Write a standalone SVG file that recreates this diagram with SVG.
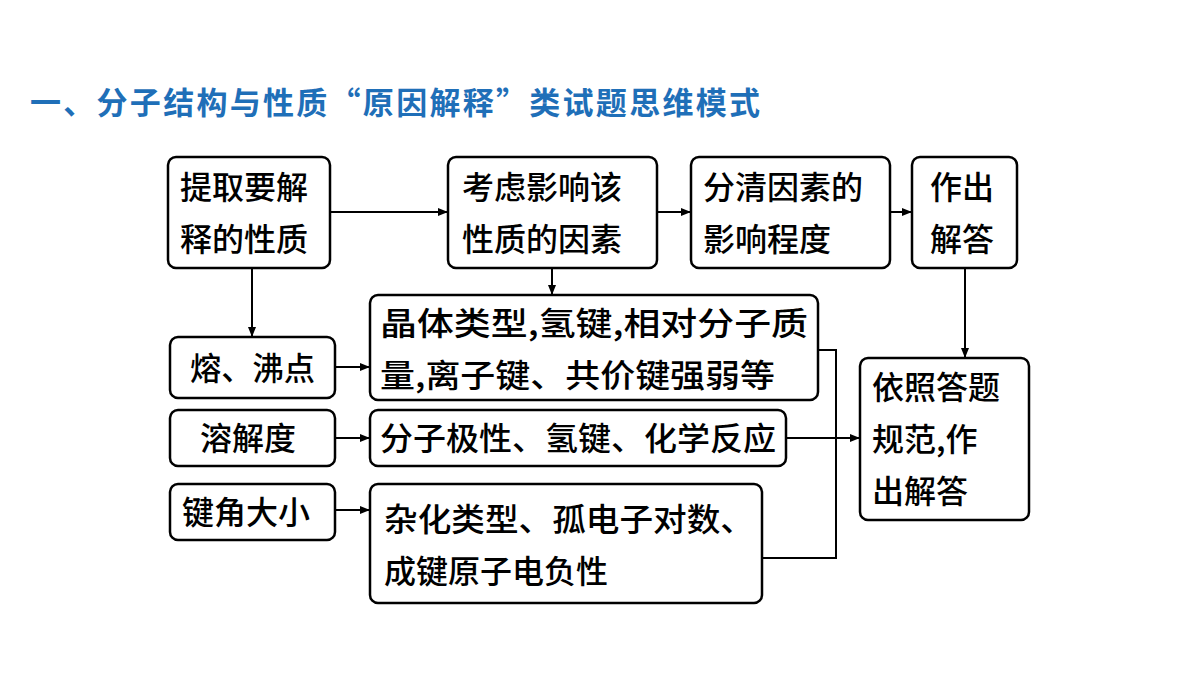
<svg xmlns="http://www.w3.org/2000/svg" width="1200" height="675" viewBox="0 0 1200 675">
<defs>
<marker id="ar" markerWidth="10" markerHeight="8" refX="9" refY="4" orient="auto" markerUnits="userSpaceOnUse"><path d="M0,0 L10,4 L0,8 Z" fill="#000"/></marker>
<style>
.b{fill:#fff;stroke:#000;stroke-width:2.5}
.t{font-family:"Noto Sans CJK SC","Noto Sans",sans-serif;font-size:32px;font-weight:500;fill:#000}
.c{fill:none;stroke:#000;stroke-width:2}
</style>
</defs>
<rect width="1200" height="675" fill="#fff"/>
<text x="30" y="114" style="font-family:'Noto Sans CJK SC',sans-serif;font-size:31px;font-weight:bold;fill:#1f6fb8" textLength="730" lengthAdjust="spacing">一、分子结构与性质“原因解释”类试题思维模式</text>
<g id="A"><rect class="b" x="168" y="157" width="162" height="111" rx="8"/><text class="t" x="180" y="199">提取要解</text><text class="t" x="180" y="251">释的性质</text></g>
<g id="B"><rect class="b" x="448" y="157" width="209" height="111" rx="8"/><text class="t" x="462" y="199">考虑影响该</text><text class="t" x="462" y="251">性质的因素</text></g>
<g id="C"><rect class="b" x="691" y="157" width="199" height="111" rx="8"/><text class="t" x="703" y="199">分清因素的</text><text class="t" x="703" y="251">影响程度</text></g>
<g id="D"><rect class="b" x="912" y="157" width="105" height="111" rx="8"/><text class="t" x="930" y="199">作出</text><text class="t" x="930" y="251">解答</text></g>
<g id="E"><rect class="b" x="170" y="337" width="165" height="61" rx="8"/><text class="t" x="190" y="380" textLength="125" lengthAdjust="spacingAndGlyphs">熔、沸点</text></g>
<g id="F"><rect class="b" x="370" y="295" width="448" height="105" rx="8"/><text class="t" x="380" y="335" textLength="428" lengthAdjust="spacingAndGlyphs">晶体类型,氢键,相对分子质</text><text class="t" x="380" y="387" textLength="395" lengthAdjust="spacingAndGlyphs">量,离子键、共价键强弱等</text></g>
<g id="G"><rect class="b" x="170" y="410" width="165" height="56" rx="8"/><text class="t" x="200" y="450">溶解度</text></g>
<g id="H"><rect class="b" x="370" y="410" width="416" height="56" rx="8"/><text class="t" x="380" y="450" textLength="396" lengthAdjust="spacingAndGlyphs">分子极性、氢键、化学反应</text></g>
<g id="I"><rect class="b" x="170" y="484" width="165" height="56" rx="8"/><text class="t" x="182" y="524">键角大小</text></g>
<g id="J"><rect class="b" x="370" y="484" width="392" height="119" rx="8"/><text class="t" x="384" y="531" textLength="370" lengthAdjust="spacingAndGlyphs">杂化类型、孤电子对数、</text><text class="t" x="384" y="583">成键原子电负性</text></g>
<g id="K"><rect class="b" x="860" y="358" width="169" height="162" rx="8"/><text class="t" x="872" y="399">依照答题</text><text class="t" x="872" y="451">规范,作</text><text class="t" x="872" y="503">出解答</text></g>
<g id="connectors">
<line class="c" x1="330" y1="212" x2="447" y2="212" marker-end="url(#ar)"/>
<line class="c" x1="657" y1="212" x2="690" y2="212" marker-end="url(#ar)"/>
<line class="c" x1="890" y1="212" x2="911" y2="212" marker-end="url(#ar)"/>
<line class="c" x1="965" y1="268" x2="965" y2="357" marker-end="url(#ar)"/>
<line class="c" x1="252" y1="268" x2="252" y2="336" marker-end="url(#ar)"/>
<line class="c" x1="552" y1="268" x2="552" y2="294" marker-end="url(#ar)"/>
<line class="c" x1="335" y1="367" x2="369" y2="367" marker-end="url(#ar)"/>
<line class="c" x1="335" y1="438" x2="369" y2="438" marker-end="url(#ar)"/>
<line class="c" x1="335" y1="510" x2="369" y2="510" marker-end="url(#ar)"/>
<line class="c" x1="786" y1="438" x2="859" y2="438" marker-end="url(#ar)"/>
<polyline class="c" points="818,350 836,350 836,558 762,558"/>
</g>
</svg>
